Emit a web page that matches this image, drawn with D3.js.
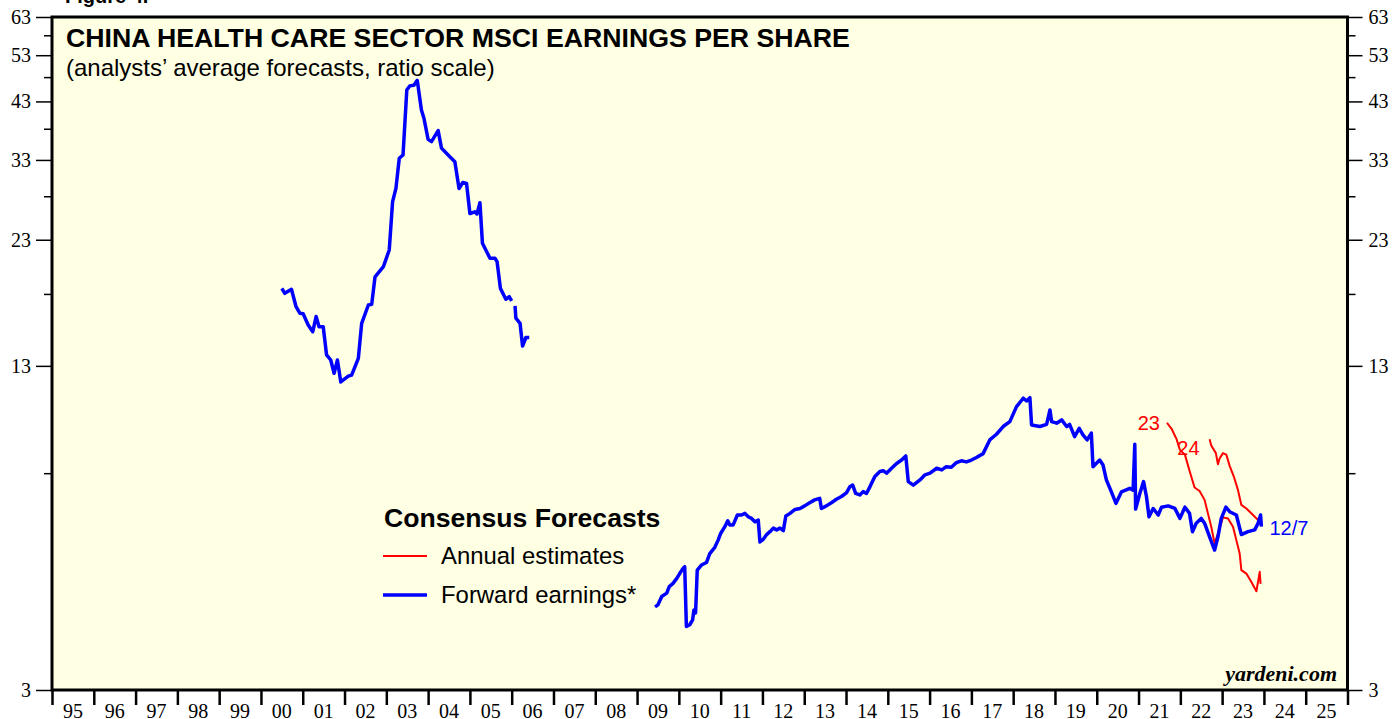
<!DOCTYPE html>
<html>
<head>
<meta charset="utf-8">
<script src="https://cdn.jsdelivr.net/npm/d3@7"></script>
<style>
  html, body { margin: 0; padding: 0; background: #ffffff; }
  svg { display: block; }
</style>
</head>
<body>
<svg id="chart" width="1392" height="719"></svg>
<script>
// ---------------- DATA ----------------
const yearTicks = d3.range(1995, 2027);
const yearLabels = ["95","96","97","98","99","00","01","02","03","04","05","06","07","08","09","10","11","12","13","14","15","16","17","18","19","20","21","22","23","24","25"];
const yMajorTicks = [3, 13, 23, 33, 43, 53, 63];
const yMinorTicks = [8, 18, 28, 38, 48, 58];

// Forward earnings, first segment (2000-2006); null marks a data gap
const fwdEarly = [
  [2000.50,18.46],[2000.57,18.05],[2000.73,18.38],[2000.84,16.99],[2000.93,16.5],[2001.01,16.45],
  [2001.13,15.64],[2001.24,15.17],[2001.32,16.25],[2001.39,15.52],[2001.49,15.52],[2001.57,13.66],
  [2001.67,13.35],[2001.75,12.57],[2001.83,13.35],[2001.91,12.09],[2002.09,12.41],[2002.17,12.47],
  [2002.33,13.45],[2002.41,15.76],[2002.57,17.12],[2002.65,17.17],[2002.73,19.45],[2002.93,20.37],
  [2003.07,21.96],[2003.15,27.32],[2003.23,29.02],[2003.31,33.25],[2003.40,33.75],[2003.49,45.28],
  [2003.56,46.13],[2003.66,46.28],[2003.74,47.3],[2003.84,41.37],[2003.90,39.85],[2004.00,36.23],
  [2004.08,35.84],[2004.24,37.68],[2004.32,34.81],[2004.52,33.47],[2004.64,32.73],[2004.74,29.0],
  [2004.83,29.8],[2004.92,29.66],[2005.00,25.9],[2005.12,26.1],[2005.17,25.85],[2005.24,27.2],
  [2005.30,22.63],[2005.48,21.15],[2005.60,21.15],[2005.65,20.83],[2005.73,18.46],[2005.86,17.57],
  [2005.94,17.78],[2006.00,17.45],null,[2006.08,17.05],[2006.10,16.13],[2006.20,15.76],
  [2006.26,14.22],[2006.34,14.78],[2006.42,14.78]
];

// Forward earnings, second segment (2009-2023)
const fwdLate = [
  [2009.43,4.37],[2009.50,4.41],[2009.59,4.58],[2009.71,4.65],[2009.77,4.79],[2009.86,4.86],
  [2009.95,4.97],[2010.02,5.08],[2010.10,5.20],[2010.14,5.24],[2010.18,4.0],[2010.26,4.03],
  [2010.33,4.12],[2010.36,4.31],[2010.40,4.25],[2010.44,5.16],[2010.54,5.28],[2010.66,5.34],
  [2010.74,5.56],[2010.86,5.72],[2010.94,5.91],[2011.00,6.09],[2011.10,6.28],[2011.17,6.45],
  [2011.22,6.33],[2011.30,6.33],[2011.40,6.62],[2011.50,6.62],[2011.58,6.67],[2011.66,6.57],
  [2011.74,6.52],[2011.82,6.42],[2011.90,6.47],[2011.94,5.86],[2012.02,5.93],[2012.10,6.06],
  [2012.18,6.14],[2012.26,6.24],[2012.34,6.19],[2012.42,6.24],[2012.50,6.17],[2012.56,6.59],
  [2012.66,6.67],[2012.78,6.79],[2012.90,6.82],[2013.01,6.90],[2013.13,7.0],[2013.25,7.09],
  [2013.37,7.14],[2013.41,6.82],[2013.53,6.90],[2013.65,7.0],[2013.77,7.11],[2013.89,7.2],
  [2014.01,7.32],[2014.09,7.52],[2014.16,7.58],[2014.23,7.3],[2014.33,7.25],[2014.41,7.36],
  [2014.49,7.3],[2014.57,7.52],[2014.69,7.88],[2014.81,8.06],[2014.89,8.09],[2014.97,8.0],
  [2015.09,8.18],[2015.21,8.36],[2015.33,8.49],[2015.43,8.65],[2015.49,7.70],[2015.61,7.58],
  [2015.77,7.76],[2015.89,7.94],[2016.01,8.0],[2016.17,8.18],[2016.29,8.12],[2016.40,8.24],
  [2016.52,8.22],[2016.64,8.39],[2016.76,8.46],[2016.88,8.42],[2017.00,8.49],[2017.12,8.59],
  [2017.28,8.74],[2017.44,9.30],[2017.60,9.54],[2017.76,9.88],[2017.92,10.1],[2018.08,10.81],
  [2018.24,11.23],[2018.32,11.09],[2018.40,11.26],[2018.44,9.95],[2018.64,9.88],[2018.80,9.98],
  [2018.88,10.65],[2018.92,10.1],[2019.04,10.03],[2019.16,10.18],[2019.28,9.88],[2019.35,9.98],
  [2019.47,9.44],[2019.58,9.80],[2019.67,9.51],[2019.77,9.30],[2019.87,9.59],[2019.91,8.24],
  [2020.07,8.49],[2020.15,8.30],[2020.23,7.76],[2020.35,7.35],[2020.46,6.98],[2020.59,7.35],
  [2020.79,7.47],[2020.87,7.41],[2020.91,9.12],[2020.93,6.8],[2021.03,7.3],[2021.12,7.70],
  [2021.19,7.19],[2021.25,6.57],[2021.35,6.82],[2021.47,6.62],[2021.55,6.86],[2021.71,6.9],
  [2021.87,6.82],[2021.99,6.52],[2022.11,6.86],[2022.22,6.67],[2022.29,6.14],[2022.38,6.38],
  [2022.50,6.52],[2022.58,6.38],[2022.70,6.0],[2022.82,5.65],[2022.90,6.0],[2022.98,6.52],
  [2023.09,6.86],[2023.18,6.72],[2023.34,6.62],[2023.46,6.06],[2023.62,6.14],[2023.78,6.19],
  [2023.86,6.38],[2023.92,6.62],[2023.94,6.28]
];

// Annual estimates for 2023
const annual23 = [
  [2021.68,10.05],[2021.79,9.78],[2021.91,9.33],[2021.99,8.89],[2022.11,8.70],[2022.22,8.09],
  [2022.34,7.5],[2022.46,7.38],[2022.58,7.09],[2022.66,6.67],[2022.74,6.28],[2022.82,5.82],
  [2022.90,6.09],[2023.02,6.55],[2023.14,6.52],[2023.26,6.28],[2023.34,5.91],[2023.42,5.56],
  [2023.46,5.16],[2023.58,5.08],[2023.70,4.89],[2023.82,4.69],[2023.90,5.12],[2023.92,4.85]
];

// Annual estimates for 2024
const annual24 = [
  [2022.70,9.33],[2022.74,9.07],[2022.85,8.76],[2022.90,8.33],[2022.94,8.55],[2023.02,8.76],
  [2023.10,8.70],[2023.18,8.27],[2023.28,7.88],[2023.38,7.41],[2023.46,6.93],[2023.58,6.82],
  [2023.74,6.62],[2023.86,6.47],[2023.92,6.62]
];

// ---------------- CHART ----------------
const svg = d3.select("#chart");
const L = 52, R = 1347.5, T = 17, B = 690;

const x = d3.scaleLinear().domain([1995, 2026]).range([L, R]);
const y = d3.scaleLog().domain([3, 63]).range([B, T]);

// plot background
svg.append("rect").attr("x", L).attr("y", T).attr("width", R - L).attr("height", B - T)
  .attr("fill", "#FFFFE3");

// "Figure 4." partially visible at the very top
svg.append("text").attr("x", 65).attr("y", 3).text("Figure 4.")
  .attr("font-family", "Liberation Sans, Arial, sans-serif").attr("font-weight", "bold")
  .attr("font-size", 20).attr("fill", "#000");

// Y axes
const serif = "Liberation Serif, Times New Roman, serif";
function styleAxis(g) {
  g.select(".domain").remove();
  g.selectAll("line").attr("stroke", "#000").attr("stroke-width", 1.5);
  g.selectAll("text").attr("font-family", serif).attr("font-size", 20).attr("fill", "#000");
}
svg.append("g").attr("transform", `translate(${L},0)`)
  .call(d3.axisLeft(y).tickValues(yMajorTicks).tickSize(16).tickPadding(5).tickFormat(d3.format("d")))
  .call(styleAxis);
svg.append("g").attr("transform", `translate(${L},0)`)
  .call(d3.axisLeft(y).tickValues(yMinorTicks).tickSize(8).tickFormat(""))
  .call(styleAxis);
svg.append("g").attr("transform", `translate(${R},0)`)
  .call(d3.axisRight(y).tickValues(yMajorTicks).tickSize(15).tickPadding(6).tickFormat(d3.format("d")))
  .call(styleAxis);
svg.append("g").attr("transform", `translate(${R},0)`)
  .call(d3.axisRight(y).tickValues(yMinorTicks).tickSize(8).tickFormat(""))
  .call(styleAxis);

// X axis: ticks at year boundaries, labels centred in between
const xg = svg.append("g").attr("transform", `translate(0,${B})`)
  .call(d3.axisBottom(x).tickValues(yearTicks).tickSize(15).tickFormat(""));
xg.select(".domain").remove();
xg.selectAll("line").attr("stroke", "#000").attr("stroke-width", 2.5);
svg.append("g").selectAll("text").data(yearLabels).join("text")
  .attr("x", (d, i) => x(1995 + i + 0.5)).attr("y", 718)
  .attr("text-anchor", "middle").attr("font-family", serif).attr("font-size", 20)
  .attr("fill", "#000").text(d => d);

// Frame
svg.append("rect").attr("x", L).attr("y", T).attr("width", R - L).attr("height", B - T)
  .attr("fill", "none").attr("stroke", "#000").attr("stroke-width", 3);

// Lines
const line = d3.line().defined(d => d !== null).x(d => x(d[0])).y(d => y(d[1]));
svg.append("path").datum(fwdEarly).attr("d", line).attr("fill", "none")
  .attr("stroke", "#0000FF").attr("stroke-width", 3.5).attr("stroke-linejoin", "round");
svg.append("path").datum(annual23).attr("d", line).attr("fill", "none")
  .attr("stroke", "#FF0000").attr("stroke-width", 2).attr("stroke-linejoin", "round");
svg.append("path").datum(annual24).attr("d", line).attr("fill", "none")
  .attr("stroke", "#FF0000").attr("stroke-width", 2).attr("stroke-linejoin", "round");
svg.append("path").datum(fwdLate).attr("d", line).attr("fill", "none")
  .attr("stroke", "#0000FF").attr("stroke-width", 3.5).attr("stroke-linejoin", "round");

// Title
const sans = "Liberation Sans, Arial, sans-serif";
svg.append("text").attr("x", 66).attr("y", 47)
  .attr("font-family", sans).attr("font-weight", "bold").attr("font-size", 26.7)
  .attr("fill", "#000").text("CHINA HEALTH CARE SECTOR MSCI EARNINGS PER SHARE");
svg.append("text").attr("x", 66).attr("y", 76)
  .attr("font-family", sans).attr("font-size", 24)
  .attr("fill", "#000").text("(analysts’ average forecasts, ratio scale)");

// Legend
svg.append("text").attr("x", 384).attr("y", 527)
  .attr("font-family", sans).attr("font-weight", "bold").attr("font-size", 26.6)
  .attr("fill", "#000").text("Consensus Forecasts");
svg.append("line").attr("x1", 383).attr("x2", 427).attr("y1", 556).attr("y2", 556)
  .attr("stroke", "#FF0000").attr("stroke-width", 2);
svg.append("text").attr("x", 441).attr("y", 564)
  .attr("font-family", sans).attr("font-size", 23.9).attr("fill", "#000").text("Annual estimates");
svg.append("line").attr("x1", 383).attr("x2", 427).attr("y1", 595).attr("y2", 595)
  .attr("stroke", "#0000FF").attr("stroke-width", 3.5);
svg.append("text").attr("x", 441).attr("y", 603)
  .attr("font-family", sans).attr("font-size", 23.9).attr("fill", "#000").text("Forward earnings*");

// Series labels
svg.append("text").attr("x", x(annual23[0][0]) - 7).attr("y", y(annual23[0][1]) + 7)
  .attr("text-anchor", "end").attr("font-family", sans).attr("font-size", 20)
  .attr("fill", "#FF0000").text("23");
svg.append("text").attr("x", x(annual24[0][0]) - 10).attr("y", y(annual24[0][1]) + 16)
  .attr("text-anchor", "end").attr("font-family", sans).attr("font-size", 20)
  .attr("fill", "#FF0000").text("24");
const last = fwdLate[fwdLate.length - 1];
svg.append("text").attr("x", x(last[0]) + 8).attr("y", y(last[1]) + 8)
  .attr("font-family", sans).attr("font-size", 20)
  .attr("fill", "#0000FF").text("12/7");

// Source
svg.append("text").attr("x", 1337).attr("y", 681).attr("text-anchor", "end")
  .attr("font-family", serif).attr("font-weight", "bold").attr("font-style", "italic")
  .attr("font-size", 22).attr("fill", "#000").text("yardeni.com");
</script>
</body>
</html>
